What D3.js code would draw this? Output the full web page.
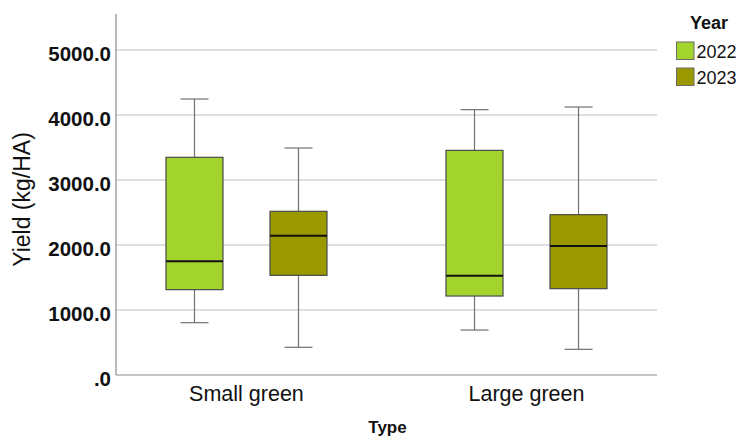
<!DOCTYPE html>
<html>
<head>
<meta charset="utf-8">
<script src="https://cdn.jsdelivr.net/npm/d3@7"></script>
<style>
  html, body { margin: 0; padding: 0; background: #fff; }
  svg { display: block; font-family: "Liberation Sans", Arial, sans-serif; }
</style>
</head>
<body>
<svg id="chart" width="741" height="438"></svg>
<script>
// Yield box plots by type and year
const types = ["Small green", "Large green"];
const years = ["2022", "2023"];
const yearColors = ["#a3d42e", "#9a9a00"];
// five-number summaries per type, one entry per year: [min, q1, median, q3, max]
const smallGreen = [
  [805, 1313, 1749, 3349, 4246],
  [426, 1533, 2144, 2518, 3492]
];
const largeGreen = [
  [692, 1215, 1528, 3456, 4082],
  [395, 1328, 1985, 2467, 4123]
];
const yTicks = [0, 1000, 2000, 3000, 4000, 5000];

const seriesByType = [smallGreen, largeGreen];

const svg = d3.select("#chart");
const plotLeft = 116, plotRight = 657, plotTop = 14, plotBottom = 375;

const x = d3.scalePoint().domain(types).range([plotLeft, plotRight]).padding(0.466);
const xYear = d3.scaleBand().domain(years).range([-80.5, 80.5]).paddingInner(0.452);
const y = d3.scaleLinear().domain([0, 5554]).range([plotBottom, plotTop]);

// gridlines
svg.append("g")
  .selectAll("line")
  .data(yTicks.filter(d => d > 0))
  .join("line")
  .attr("x1", plotLeft).attr("x2", plotRight)
  .attr("y1", d => y(d)).attr("y2", d => y(d))
  .attr("stroke", "#d4d4d4").attr("stroke-width", 1.3);

// axis lines
svg.append("line").attr("x1", plotLeft).attr("x2", plotLeft).attr("y1", plotTop).attr("y2", plotBottom)
  .attr("stroke", "#8a8a8a").attr("stroke-width", 1.2);
svg.append("line").attr("x1", plotLeft).attr("x2", plotRight).attr("y1", plotBottom).attr("y2", plotBottom)
  .attr("stroke", "#8a8a8a").attr("stroke-width", 1.2);

// y tick labels
svg.append("g").selectAll("text")
  .data(yTicks)
  .join("text")
  .attr("x", plotLeft - 5)
  .attr("y", d => y(d))
  .attr("dy", "0.56em")
  .attr("text-anchor", "end")
  .attr("font-size", 20.5)
  .attr("font-weight", "bold")
  .attr("fill", "#111")
  .text(d => d === 0 ? ".0" : d3.format(".1f")(d));

// y axis title
svg.append("text")
  .attr("transform", `translate(30,${(plotTop + plotBottom) / 2 + 5}) rotate(-90)`)
  .attr("text-anchor", "middle")
  .attr("font-size", 23)
  .attr("fill", "#111")
  .text("Yield (kg/HA)");

// category labels
svg.append("g").selectAll("text")
  .data(types)
  .join("text")
  .attr("x", d => x(d))
  .attr("y", 400.5)
  .attr("text-anchor", "middle")
  .attr("font-size", 21.5)
  .attr("fill", "#111")
  .text(d => d);

svg.append("text")
  .attr("x", 387.5)
  .attr("y", 433)
  .attr("text-anchor", "middle")
  .attr("font-size", 17)
  .attr("font-weight", "bold")
  .attr("fill", "#111")
  .text("Type");

// boxes
const capHalf = 14;
types.forEach((t, ti) => {
  seriesByType[ti].forEach((s, yi) => {
    const [mn, q1, med, q3, mx] = s;
    const x0 = x(t) + xYear(years[yi]);
    const w = xYear.bandwidth();
    const cx = x0 + w / 2;
    const g = svg.append("g");
    // whiskers
    g.append("line").attr("x1", cx).attr("x2", cx).attr("y1", y(mx)).attr("y2", y(q3))
      .attr("stroke", "#707070").attr("stroke-width", 1.2);
    g.append("line").attr("x1", cx).attr("x2", cx).attr("y1", y(q1)).attr("y2", y(mn))
      .attr("stroke", "#707070").attr("stroke-width", 1.2);
    g.append("line").attr("x1", cx - capHalf).attr("x2", cx + capHalf).attr("y1", y(mx)).attr("y2", y(mx))
      .attr("stroke", "#707070").attr("stroke-width", 1.2);
    g.append("line").attr("x1", cx - capHalf).attr("x2", cx + capHalf).attr("y1", y(mn)).attr("y2", y(mn))
      .attr("stroke", "#707070").attr("stroke-width", 1.2);
    // box
    g.append("rect")
      .attr("x", x0).attr("y", y(q3))
      .attr("width", w).attr("height", y(q1) - y(q3))
      .attr("fill", yearColors[yi])
      .attr("stroke", "#4a4a4a").attr("stroke-width", 1.2);
    // median
    g.append("line").attr("x1", x0).attr("x2", x0 + w).attr("y1", y(med)).attr("y2", y(med))
      .attr("stroke", "#111").attr("stroke-width", 2);
  });
});

// legend
const lg = svg.append("g");
lg.append("text").attr("x", 709).attr("y", 29).attr("text-anchor", "middle")
  .attr("font-size", 18).attr("font-weight", "bold").attr("fill", "#111").text("Year");
years.forEach((yr, i) => {
  const yy = 42 + i * 26;
  lg.append("rect").attr("x", 676.5).attr("y", yy).attr("width", 17.5).attr("height", 17.5)
    .attr("fill", yearColors[i]).attr("stroke", "#6a6a6a").attr("stroke-width", 1);
  lg.append("text").attr("x", 696.5).attr("y", yy + 15.5)
    .attr("font-size", 18).attr("fill", "#111").text(yr);
});
</script>
</body>
</html>
